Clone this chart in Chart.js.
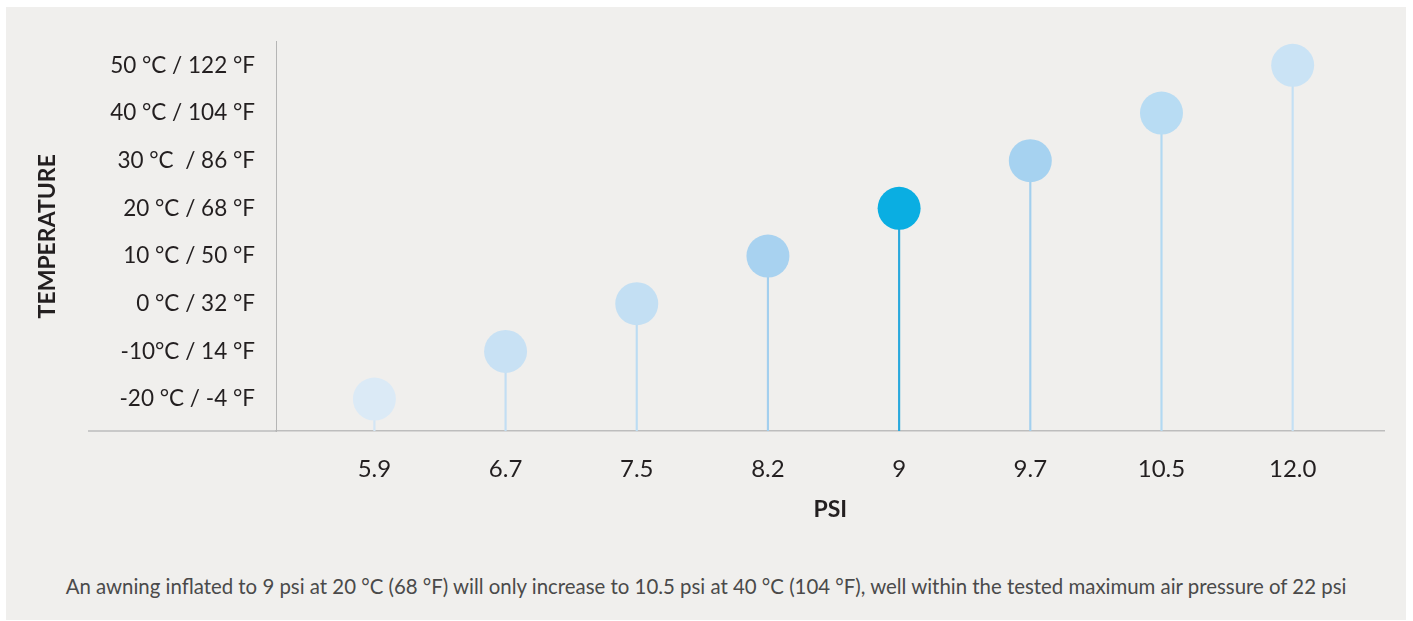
<!DOCTYPE html>
<html>
<head>
<meta charset="utf-8">
<script src="https://cdn.jsdelivr.net/npm/chart.js@4.4.1/dist/chart.umd.min.js"></script>
<style>
  html, body { margin: 0; padding: 0; background: #ffffff; }
  #panel {
    position: absolute; left: 6px; top: 7px; width: 1400px; height: 613px;
    background: #f0efed; overflow: hidden;
  }
  #chartBox { position: absolute; left: 0; top: 0; width: 1400px; height: 540px; }
  #note {
    position: absolute; left: 0; top: 567px; width: 1400px; text-align: center;
    font-family: Lato, sans-serif; font-size: 20.4px; line-height: 24px; color: #4a4a4a; margin: 0;
  }
</style>
</head>
<body>
<div id="panel">
  <div id="chartBox"><canvas id="chart"></canvas></div>
  <p id="note">An awning inflated to 9 psi at 20 °C (68 °F) will only increase to 10.5 psi at 40 °C (104 °F), well within the tested maximum air pressure of 22 psi</p>
</div>
<script>
const psiLabels = ["5.9", "6.7", "7.5", "8.2", "9", "9.7", "10.5", "12.0"];
const temperatures = [-20, -10, 0, 10, 20, 30, 40, 50];
const tempTickValues = [-20, -10, 0, 10, 20, 30, 40, 50];
const tempTickLabels = [
  "-20 °C / -4 °F",
  "-10°C / 14 °F",
  "0 °C / 32 °F",
  "10 °C / 50 °F",
  "20 °C / 68 °F",
  "30 °C  / 86 °F",
  "40 °C / 104 °F",
  "50 °C / 122 °F"
];
const dotColors = ["#dbeaf6", "#c8e1f4", "#c3dff3", "#a8d2f0", "#0aaee2", "#a6d2f0", "#b8dcf3", "#cae3f5"];
const stemColors = ["#d3e6f5", "#c2def3", "#bcdcf3", "#a3cfee", "#2aa8dc", "#a2cfee", "#b2d9f2", "#c4e0f4"];

const Y_MIN = -26.7;
const Y_MAX = 55;
const FONT = "Lato, sans-serif";
const TEXT = "#231f20";

// x axis line continues left under the y labels
const axisExtend = {
  id: "axisExtend",
  afterDraw(chart) {
    const { ctx, chartArea } = chart;
    ctx.save();
    ctx.strokeStyle = "#bdbdbd";
    ctx.lineWidth = 1.5;
    ctx.beginPath();
    ctx.moveTo(82, chartArea.bottom);
    ctx.lineTo(chartArea.left, chartArea.bottom);
    ctx.stroke();
    ctx.restore();
  }
};

new Chart(document.getElementById("chart"), {
  type: "bar",
  data: {
    datasets: [
      {
        type: "line",
        data: temperatures.map((t, i) => ({ x: i, y: t })),
        showLine: false,
        pointRadius: 21.5,
        pointHoverRadius: 21.5,
        pointBackgroundColor: dotColors,
        pointBorderWidth: 0,
        order: 0
      },
      {
        type: "bar",
        data: temperatures.map((t, i) => ({ x: i, y: [Y_MIN, t] })),
        backgroundColor: stemColors,
        barThickness: 1.5,
        order: 1
      }
    ]
  },
  options: {
    responsive: true,
    maintainAspectRatio: false,
    animation: false,
    events: [],
    layout: { padding: { left: 0, right: 10, top: 28, bottom: 0 } },
    plugins: { legend: { display: false }, tooltip: { enabled: false } },
    scales: {
      x: {
        type: "linear",
        offset: false,
        min: -0.75,
        max: 7.7,
        afterBuildTicks: (scale) => {
          scale.ticks = psiLabels.map((_, i) => ({ value: i }));
        },
        afterFit: (scale) => { scale.height = 116; },
        grid: { display: false, drawTicks: false },
        border: { display: true, color: "#bdbdbd", width: 1.5 },
        ticks: {
          padding: 24,
          maxRotation: 0,
          color: TEXT,
          font: { family: FONT, size: 24 },
          callback: (v) => psiLabels[v]
        },
        title: {
          display: true,
          text: "PSI",
          color: TEXT,
          font: { family: FONT, size: 23, weight: "bold" },
          padding: { top: 0, bottom: 24 }
        }
      },
      y: {
        min: Y_MIN,
        max: Y_MAX,
        afterBuildTicks: (scale) => {
          scale.ticks = tempTickValues.map((v) => ({ value: v }));
        },
        afterFit: (scale) => { scale.width = 270; },
        grid: { display: false, drawTicks: false },
        border: { display: true, color: "#b5b5b5", width: 1 },
        ticks: {
          padding: 21,
          color: TEXT,
          font: { family: FONT, size: 22.5 },
          callback: (v) => tempTickLabels[tempTickValues.indexOf(v)]
        },
        title: {
          display: true,
          text: "TEMPERATURE",
          color: TEXT,
          font: { family: FONT, size: 23, weight: "bold" },
          padding: { top: 28 }
        }
      }
    }
  },
  plugins: [axisExtend]
});
</script>
</body>
</html>
